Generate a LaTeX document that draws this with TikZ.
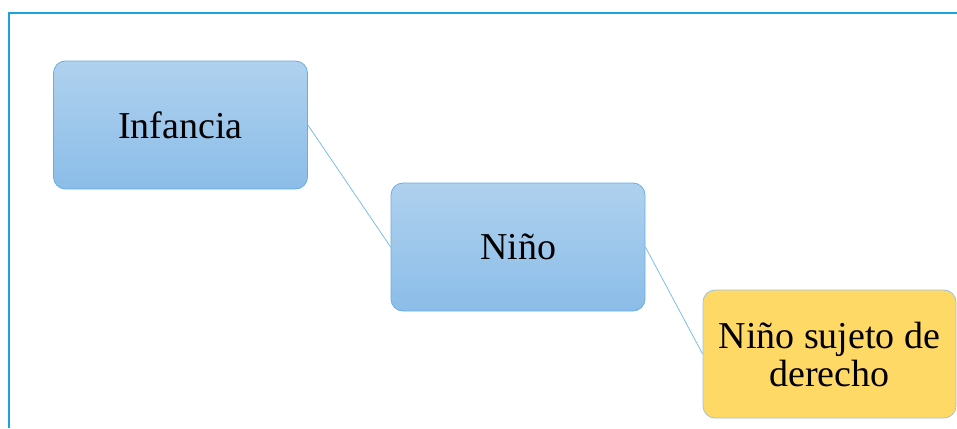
\documentclass[tikz,border=0pt]{standalone}
\usepackage{fontspec}
\setmainfont{Liberation Serif}
\definecolor{framec}{HTML}{1AA3DF}
\definecolor{bluetop}{HTML}{AFD1EE}
\definecolor{bluebot}{HTML}{8BBDE8}
\definecolor{blueedge}{HTML}{6AAEDF}
\definecolor{yellowfill}{HTML}{FFD966}
\definecolor{yellowedge}{HTML}{9DC3E6}
\definecolor{linkc}{HTML}{7CBDE6}
\tikzset{
  bluebox/.style={rectangle, rounded corners=12pt, draw=blueedge, line width=0.8pt,
    top color=bluetop, bottom color=bluebot, minimum width=254pt, minimum height=128pt,
    font=\fontsize{38}{38}\selectfont, align=center, inner sep=0pt},
  yellowbox/.style={rectangle, rounded corners=12pt, draw=yellowedge, line width=0.8pt,
    fill=yellowfill, minimum width=253pt, minimum height=128pt,
    font=\fontsize{38}{38}\selectfont, align=center, inner sep=0pt},
  link/.style={draw=linkc, line width=0.8pt},
  framel/.style={draw=framec, line width=2pt}
}
\begin{document}
\begin{tikzpicture}[x=1pt,y=-1pt]
\useasboundingbox (0,0) rectangle (957,428);
\coordinate (f1) at (957,13);
\coordinate (f2) at (9,13);
\coordinate (f3) at (9,428);
\draw[framel] (f1) -- (f2) -- (f3);
\node[bluebox] (inf) at (180.5,125) {Infancia};
\node[bluebox] (nino) at (518,247) {Niño};
\node[yellowbox] (suj) at (829.5,354) {Niño sujeto de\\derecho};
\draw[link] (inf.east) -- (nino.west);
\draw[link] (nino.east) -- (suj.west);
\end{tikzpicture}
\end{document}
